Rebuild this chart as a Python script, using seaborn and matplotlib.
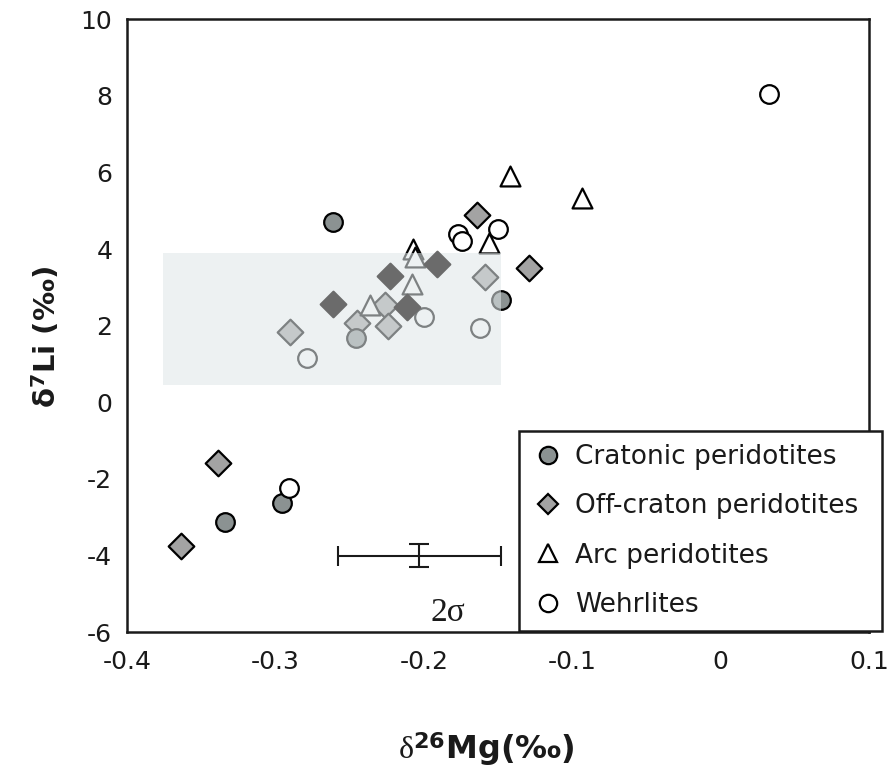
import matplotlib
matplotlib.use("Agg")
import matplotlib.pyplot as plt
from matplotlib.lines import Line2D
from matplotlib.patches import Rectangle
import seaborn as sns
import pandas as pd

# ---- data ----
craton_x = [-0.261, -0.148, -0.2455, -0.2954, -0.334]
craton_y = [4.70, 2.66, 1.67, -2.63, -3.13]

offcraton_x = [-0.164, -0.129, -0.159, -0.226, -0.245, -0.224, -0.290, -0.3386, -0.3636]
offcraton_y = [4.90, 3.52, 3.28, 2.53, 2.08, 2.00, 1.83, -1.59, -3.75]

# off-craton samples drawn highlighted (dark) over the shaded field
offcraton_hi_x = [-0.191, -0.2225, -0.261, -0.211]
offcraton_hi_y = [3.62, 3.31, 2.58, 2.48]

arc_x = [-0.142, -0.0937, -0.156, -0.207, -0.206, -0.208, -0.236]
arc_y = [5.92, 5.34, 4.17, 4.00, 3.80, 3.10, 2.53]

wehrlite_x = [0.0325, -0.177, -0.174, -0.150, -0.200, -0.162, -0.279, -0.2907]
wehrlite_y = [8.05, 4.40, 4.22, 4.53, 2.22, 1.93, 1.17, -2.24]

field_x = [-0.376, -0.148]   # shaded field extent
field_y = [0.45, 3.90]

err_x, err_y = [-0.203], [-4.0]
err_xerr, err_yerr = [0.055], [0.3]

x_ticks = [-0.4, -0.3, -0.2, -0.1, 0, 0.1]
x_ticklabels = ["-0.4", "-0.3", "-0.2", "-0.1", "0", "0.1"]
y_ticks = [-6, -4, -2, 0, 2, 4, 6, 8, 10]
y_ticklabels = ["-6", "-4", "-2", "0", "2", "4", "6", "8", "10"]

labels = ["Cratonic peridotites", "Off-craton peridotites", "Arc peridotites", "Wehrlites"]

# ---- style ----
sns.set_style("white")
plt.rcParams["font.family"] = ["DejaVu Sans"]
plt.rcParams["axes.unicode_minus"] = False
plt.rcParams["mathtext.fontset"] = "custom"
plt.rcParams["mathtext.rm"] = "Liberation Serif"
plt.rcParams["mathtext.bf"] = "DejaVu Sans:bold"
plt.rcParams["mathtext.it"] = "Liberation Serif:italic"

fig = plt.figure(figsize=(8.94, 7.71), dpi=100)
ax = fig.add_axes([0.142, 0.180, 0.830, 0.795])

c_craton = "#8b9292"
c_off = "#a3a3a3"
c_off_hi = "#6b6b6b"
lw = 1.6

df_c = pd.DataFrame({"x": craton_x, "y": craton_y})
df_o = pd.DataFrame({"x": offcraton_x, "y": offcraton_y})
df_oh = pd.DataFrame({"x": offcraton_hi_x, "y": offcraton_hi_y})
df_a = pd.DataFrame({"x": arc_x, "y": arc_y})
df_w = pd.DataFrame({"x": wehrlite_x, "y": wehrlite_y})

sns.scatterplot(data=df_o, x="x", y="y", marker="D", s=170, color=c_off,
                edgecolor="black", linewidth=lw, ax=ax, zorder=2)
sns.scatterplot(data=df_c, x="x", y="y", marker="o", s=180, color=c_craton,
                edgecolor="black", linewidth=lw, ax=ax, zorder=2)
sns.scatterplot(data=df_a, x="x", y="y", marker="^", s=205, color="white",
                edgecolor="black", linewidth=lw, ax=ax, zorder=2)
sns.scatterplot(data=df_w, x="x", y="y", marker="o", s=180, color="white",
                edgecolor="black", linewidth=lw, ax=ax, zorder=2)

# translucent shaded field over the samples
ax.add_patch(Rectangle((field_x[0], field_y[0]), field_x[1] - field_x[0],
                       field_y[1] - field_y[0], facecolor="#e0e7e9",
                       edgecolor="none", alpha=0.56, zorder=3))

sns.scatterplot(data=df_oh, x="x", y="y", marker="D", s=170, color=c_off_hi,
                edgecolor=c_off_hi, linewidth=lw, ax=ax, zorder=4)

# 2 sigma error bar
ax.errorbar(err_x, err_y, xerr=err_xerr, yerr=err_yerr, fmt="none",
            ecolor="#1a1a1a", elinewidth=1.5, capsize=7.5, capthick=1.5, zorder=4)
ax.text(-0.1835, -5.5, "2σ", fontsize=24, family="Liberation Serif",
        ha="center", va="center", color="#1a1a1a")

ax.set_xlim(-0.4, 0.1)
ax.set_ylim(-6, 10)
ax.set_xticks(x_ticks)
ax.set_xticklabels(x_ticklabels)
ax.set_yticks(y_ticks)
ax.set_yticklabels(y_ticklabels)
ax.tick_params(axis="both", direction="inout", colors="#1a1a1a", labelsize=18,
               width=1.5, labelcolor="#1a1a1a")
ax.tick_params(axis="y", length=15, pad=3)
ax.tick_params(axis="x", length=13, pad=6)
for sp in ax.spines.values():
    sp.set_visible(True)
    sp.set_color("#1a1a1a")
    sp.set_linewidth(1.8)

ax.set_xlabel(r"$\mathrm{\delta}^{\mathbf{26}}$Mg(‰)", fontsize=23,
              fontweight="bold", color="#1a1a1a")
ax.set_ylabel(r"δ$^{\mathbf{7}}$Li (‰)", fontsize=21, fontweight="bold",
              color="#1a1a1a")
ax.xaxis.set_label_coords(0.484, -0.160)
ax.yaxis.set_label_coords(-0.088, 0.481)

handles = [
    Line2D([], [], ls="none", marker="o", markersize=12.5, markerfacecolor=c_craton,
           markeredgecolor="black", markeredgewidth=lw),
    Line2D([], [], ls="none", marker="D", markersize=10.5, markerfacecolor=c_off,
           markeredgecolor="black", markeredgewidth=lw),
    Line2D([], [], ls="none", marker="^", markersize=13.5, markerfacecolor="white",
           markeredgecolor="black", markeredgewidth=lw),
    Line2D([], [], ls="none", marker="o", markersize=12.5, markerfacecolor="white",
           markeredgecolor="black", markeredgewidth=lw),
]
leg = ax.legend(handles, labels, loc="lower left", mode="expand",
                bbox_to_anchor=(519 / 894, (771 - 631) / 771, 363 / 894, 204 / 771),
                bbox_transform=fig.transFigure, borderaxespad=0,
                fontsize=19, frameon=True, fancybox=False, framealpha=1,
                edgecolor="#1a1a1a", handlelength=1.2, handletextpad=0.41,
                labelspacing=0.88, borderpad=0.5)
leg.get_frame().set_linewidth(1.8)
for t in leg.get_texts():
    t.set_color("#1a1a1a")
leg.set_zorder(10)

fig.savefig("out.png", dpi=100)
